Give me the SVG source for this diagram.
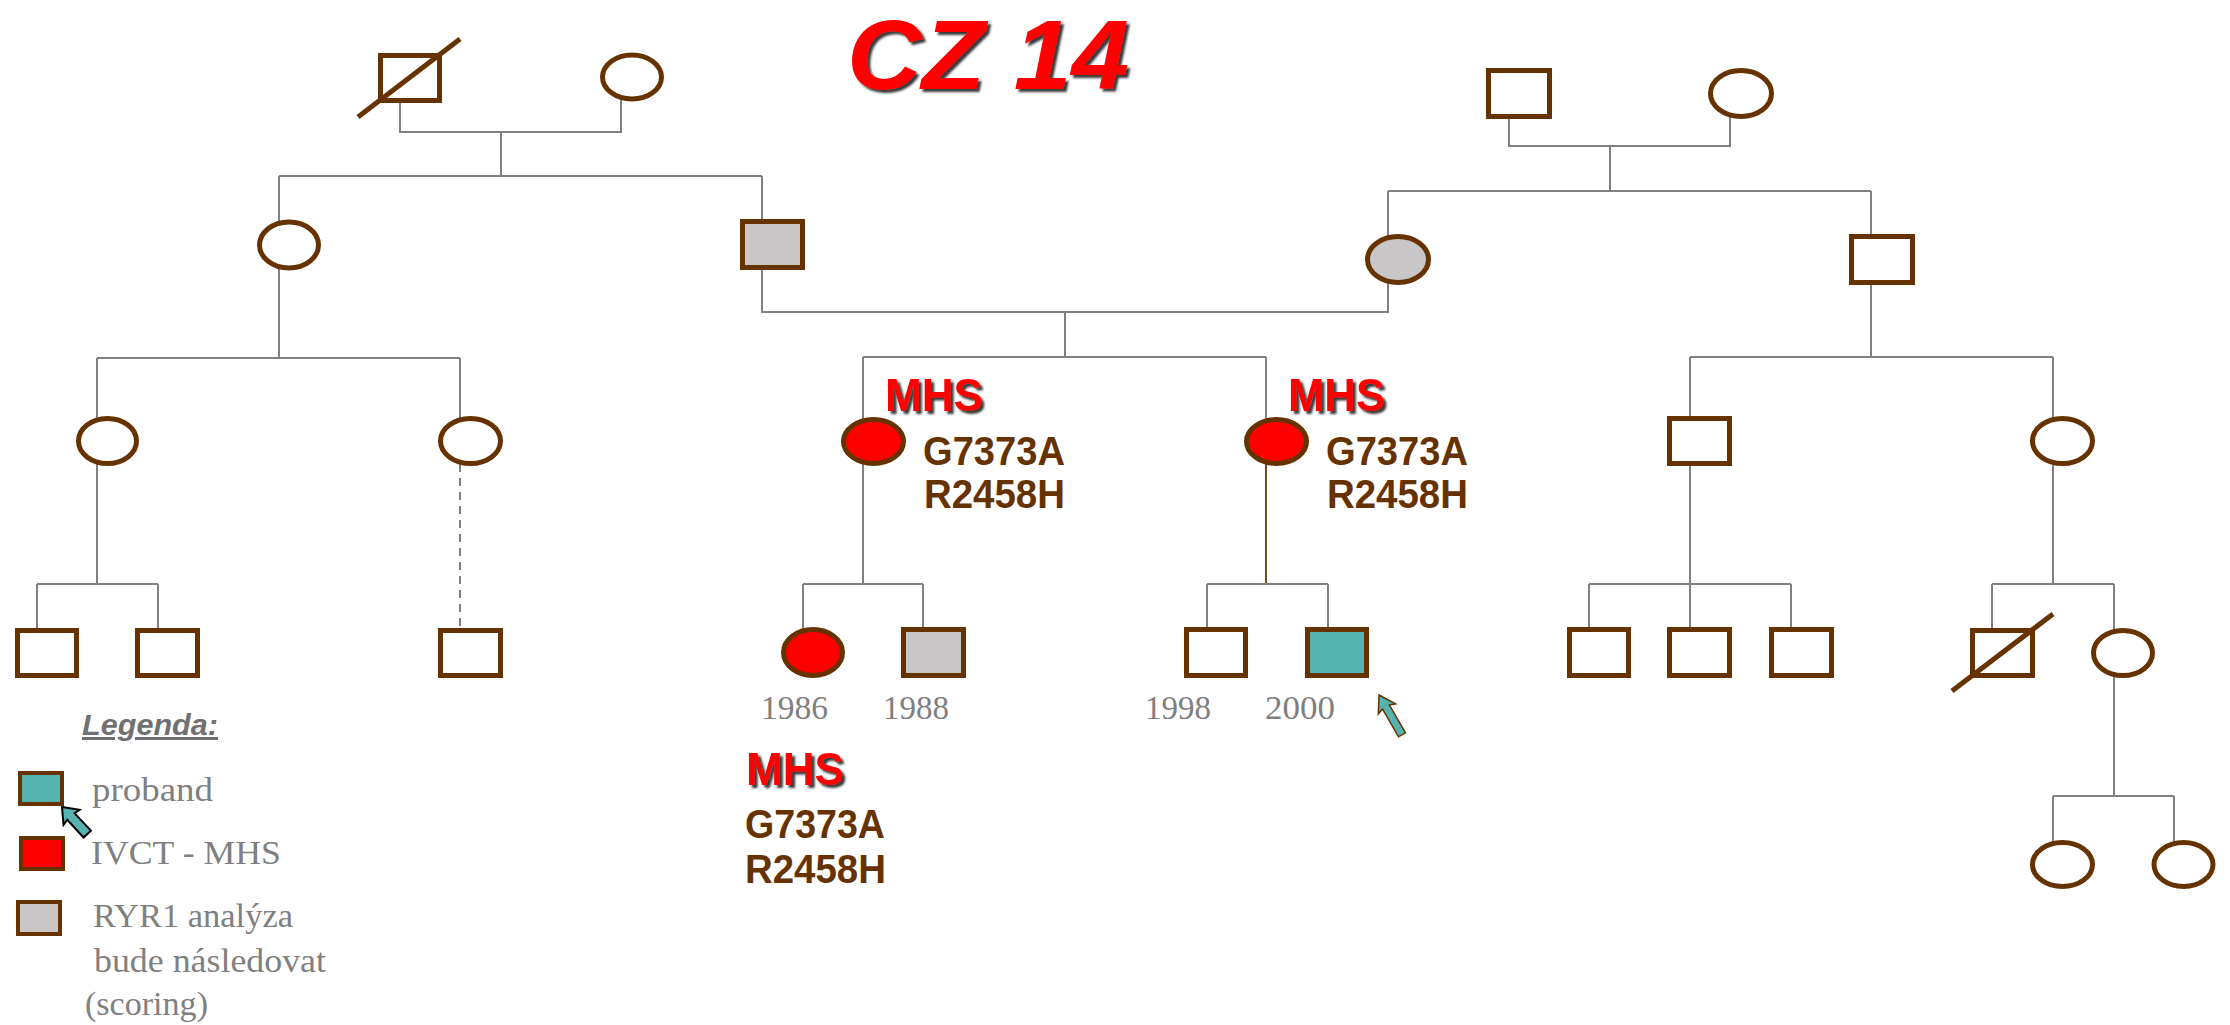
<svg xmlns="http://www.w3.org/2000/svg" width="2230" height="1025" viewBox="0 0 2230 1025">
<defs>
<filter id="sh" x="-10%" y="-10%" width="130%" height="130%">
<feDropShadow dx="3" dy="3" stdDeviation="1" flood-color="#222" flood-opacity="0.9"/>
</filter>
<style>
.n{stroke:#663300;stroke-width:5;fill:#fff}
.red{fill:#ff0000}
.gray{fill:#c8c6c6}
.teal{fill:#56b4b0}
.sl{stroke:#663300;stroke-width:5;fill:none}
.c{stroke:#808080;stroke-width:2;fill:none}
.cb{stroke:#7a4a1a;stroke-width:2;fill:none}
.dash{stroke-dasharray:8 6}
.title{font-family:"Liberation Sans",Arial,sans-serif;font-weight:bold;font-style:italic;font-size:98px;fill:#ff0000}
.mhs{font-family:"Liberation Sans",Arial,sans-serif;font-weight:bold;font-size:46px;fill:#ff0000}
.mut{font-family:"Liberation Sans",Arial,sans-serif;font-weight:bold;font-size:40px;fill:#663300}
.yr{font-family:"Liberation Serif","Times New Roman",serif;font-size:34px;fill:#7f7f7f}
.lg{font-family:"Liberation Serif","Times New Roman",serif;font-size:34px;fill:#808080}
.lgh{font-family:"Liberation Sans",Arial,sans-serif;font-weight:bold;font-style:italic;font-size:30px;fill:#707070}
</style>
</defs>
<rect width="2230" height="1025" fill="#fff"/>
<text class="title" x="847" y="89" textLength="282" lengthAdjust="spacingAndGlyphs" filter="url(#sh)">CZ 14</text>

<g id="connectors">
<path class="c" d="M400,103 V132 H621 V100"/>
<path class="c" d="M501,132 V177"/>
<path class="c" d="M279,176 H762"/>
<path class="c" d="M279,176 V222"/>
<path class="c" d="M762,176 V221"/>
<path class="c" d="M1509,119 V146 H1730 V117"/>
<path class="c" d="M1610,146 V191"/>
<path class="c" d="M1388,191 H1871"/>
<path class="c" d="M1388,191 V237"/>
<path class="c" d="M1871,191 V236"/>
<path class="c" d="M762,268 V312 H1388 V282"/>
<path class="c" d="M1065,312 V357"/>
<path class="c" d="M863,357 H1266"/>
<path class="c" d="M863,357 V420"/>
<path class="c" d="M1266,357 V420"/>
<path class="c" d="M279,267 V358"/>
<path class="c" d="M97,358 H460"/>
<path class="c" d="M97,358 V419"/>
<path class="c" d="M460,358 V419"/>
<path class="c" d="M97,463 V584"/>
<path class="c" d="M37,584 H158"/>
<path class="c" d="M37,584 V630"/>
<path class="c" d="M158,584 V630"/>
<path class="c dash" d="M460,464 V630"/>
<path class="c" d="M863,463 V584"/>
<path class="c" d="M803,584 H923"/>
<path class="c" d="M803,584 V630"/>
<path class="c" d="M923,584 V630"/>
<path class="cb" d="M1266,463 V584"/>
<path class="c" d="M1207,584 H1328"/>
<path class="c" d="M1207,584 V630"/>
<path class="c" d="M1328,584 V630"/>
<path class="c" d="M1871,283 V357"/>
<path class="c" d="M1690,357 H2053"/>
<path class="c" d="M1690,357 V419"/>
<path class="c" d="M2053,357 V419"/>
<path class="c" d="M1690,464 V584"/>
<path class="c" d="M1589,584 H1791"/>
<path class="c" d="M1589,584 V630"/>
<path class="c" d="M1690,584 V630"/>
<path class="c" d="M1791,584 V630"/>
<path class="c" d="M2053,463 V584"/>
<path class="c" d="M1992,584 H2114"/>
<path class="c" d="M1992,584 V631"/>
<path class="c" d="M2114,584 V631"/>
<path class="c" d="M2114,675 V796"/>
<path class="c" d="M2053,796 H2174"/>
<path class="c" d="M2053,796 V843"/>
<path class="c" d="M2174,796 V843"/>
</g>

<g id="I1"><rect class="n" x="380.5" y="55.5" width="59" height="45"/><line class="sl" x1="358" y1="117" x2="460" y2="39"/></g>
<g id="I2"><ellipse class="n" cx="632" cy="77" rx="29.5" ry="22"/></g>
<g id="I3"><rect class="n" x="1488.5" y="70.5" width="61" height="46"/></g>
<g id="I4"><ellipse class="n" cx="1741" cy="93.5" rx="30.5" ry="23"/></g>

<g id="II1"><ellipse class="n" cx="289" cy="245" rx="29.5" ry="23"/></g>
<g id="II2"><rect class="n gray" x="742.5" y="221.5" width="60" height="46"/></g>
<g id="II3"><ellipse class="n gray" cx="1398" cy="259.5" rx="30.5" ry="23"/></g>
<g id="II4"><rect class="n" x="1851.5" y="236.5" width="61" height="46"/></g>

<g id="III1"><ellipse class="n" cx="107.5" cy="441" rx="29" ry="22.5"/></g>
<g id="III2"><ellipse class="n" cx="470.5" cy="441" rx="30" ry="22.5"/></g>
<g id="III3"><ellipse class="n red" cx="873.5" cy="441.5" rx="30" ry="22"/>
<text class="mhs" x="885" y="411" textLength="98" lengthAdjust="spacingAndGlyphs" filter="url(#sh)">MHS</text>
<text class="mut" x="923" y="465" textLength="142" lengthAdjust="spacingAndGlyphs">G7373A</text>
<text class="mut" x="924" y="508" textLength="141" lengthAdjust="spacingAndGlyphs">R2458H</text></g>
<g id="III4"><ellipse class="n red" cx="1276.5" cy="441.5" rx="30" ry="22"/>
<text class="mhs" x="1288" y="411" textLength="97" lengthAdjust="spacingAndGlyphs" filter="url(#sh)">MHS</text>
<text class="mut" x="1326" y="465" textLength="142" lengthAdjust="spacingAndGlyphs">G7373A</text>
<text class="mut" x="1327" y="508" textLength="141" lengthAdjust="spacingAndGlyphs">R2458H</text></g>
<g id="III5"><rect class="n" x="1669.5" y="418.5" width="60" height="45"/></g>
<g id="III6"><ellipse class="n" cx="2062.5" cy="441" rx="30" ry="22.5"/></g>

<g id="IV1"><rect class="n" x="17.5" y="630.5" width="59" height="45"/></g>
<g id="IV2"><rect class="n" x="137.5" y="630.5" width="60" height="45"/></g>
<g id="IV3"><rect class="n" x="440.5" y="630.5" width="60" height="45"/></g>
<g id="IV4"><ellipse class="n red" cx="813" cy="652.5" rx="29.5" ry="23"/>
<text class="yr" x="761" y="719" textLength="67" lengthAdjust="spacingAndGlyphs">1986</text>
<text class="mhs" x="746" y="785" textLength="98" lengthAdjust="spacingAndGlyphs" filter="url(#sh)">MHS</text>
<text class="mut" x="745" y="838" textLength="140" lengthAdjust="spacingAndGlyphs">G7373A</text>
<text class="mut" x="745" y="883" textLength="141" lengthAdjust="spacingAndGlyphs">R2458H</text></g>
<g id="IV5"><rect class="n gray" x="903.5" y="629.5" width="60" height="46"/>
<text class="yr" x="883" y="719" textLength="66" lengthAdjust="spacingAndGlyphs">1988</text></g>
<g id="IV6"><rect class="n" x="1186.5" y="629.5" width="59" height="46"/>
<text class="yr" x="1145" y="719" textLength="66" lengthAdjust="spacingAndGlyphs">1998</text></g>
<g id="IV7"><rect class="n teal" x="1307.5" y="629.5" width="59" height="46"/>
<text class="yr" x="1265" y="719" textLength="70" lengthAdjust="spacingAndGlyphs">2000</text>
<polygon points="0,0 10,16 4,14 4,46 -4,46 -4,14 -10,16" fill="#56b4b0" stroke="#663300" stroke-width="1.5" stroke-linejoin="miter" transform="translate(1379,695) rotate(-30)"/></g>
<g id="IV8"><rect class="n" x="1569.5" y="629.5" width="59" height="46"/></g>
<g id="IV9"><rect class="n" x="1669.5" y="629.5" width="60" height="46"/></g>
<g id="IV10"><rect class="n" x="1771.5" y="629.5" width="60" height="46"/></g>
<g id="IV11"><rect class="n" x="1972.5" y="630.5" width="60" height="45"/><line class="sl" x1="1952" y1="691" x2="2053" y2="614"/></g>
<g id="IV12"><ellipse class="n" cx="2123" cy="653" rx="29.5" ry="22.5"/></g>

<g id="V1"><ellipse class="n" cx="2062.5" cy="864.5" rx="30" ry="22"/></g>
<g id="V2"><ellipse class="n" cx="2183.5" cy="864.5" rx="29.5" ry="22"/></g>

<g id="legend">
<text class="lgh" x="82" y="735" text-decoration="underline" textLength="136" lengthAdjust="spacingAndGlyphs">Legenda:</text>
<rect x="20" y="773" width="42" height="31" fill="#56b4b0" stroke="#663300" stroke-width="4"/>
<polygon points="0,0 11,14 5,13 5,37 -5,37 -5,13 -11,14" fill="#56b4b0" stroke="#000" stroke-width="2" transform="translate(62,807) rotate(-43)"/>
<text class="lg" x="92" y="801" textLength="121" lengthAdjust="spacingAndGlyphs">proband</text>
<rect x="21" y="838" width="42" height="31" fill="#ff0000" stroke="#663300" stroke-width="4"/>
<text class="lg" x="91" y="864" textLength="190" lengthAdjust="spacingAndGlyphs">IVCT - MHS</text>
<rect x="18" y="902" width="42" height="32" fill="#c8c6c6" stroke="#663300" stroke-width="4"/>
<text class="lg" x="93" y="927" textLength="200" lengthAdjust="spacingAndGlyphs">RYR1 analýza</text>
<text class="lg" x="94" y="972" textLength="232" lengthAdjust="spacingAndGlyphs">bude následovat</text>
<text class="lg" x="85" y="1015" textLength="123" lengthAdjust="spacingAndGlyphs">(scoring)</text>
</g>
</svg>
